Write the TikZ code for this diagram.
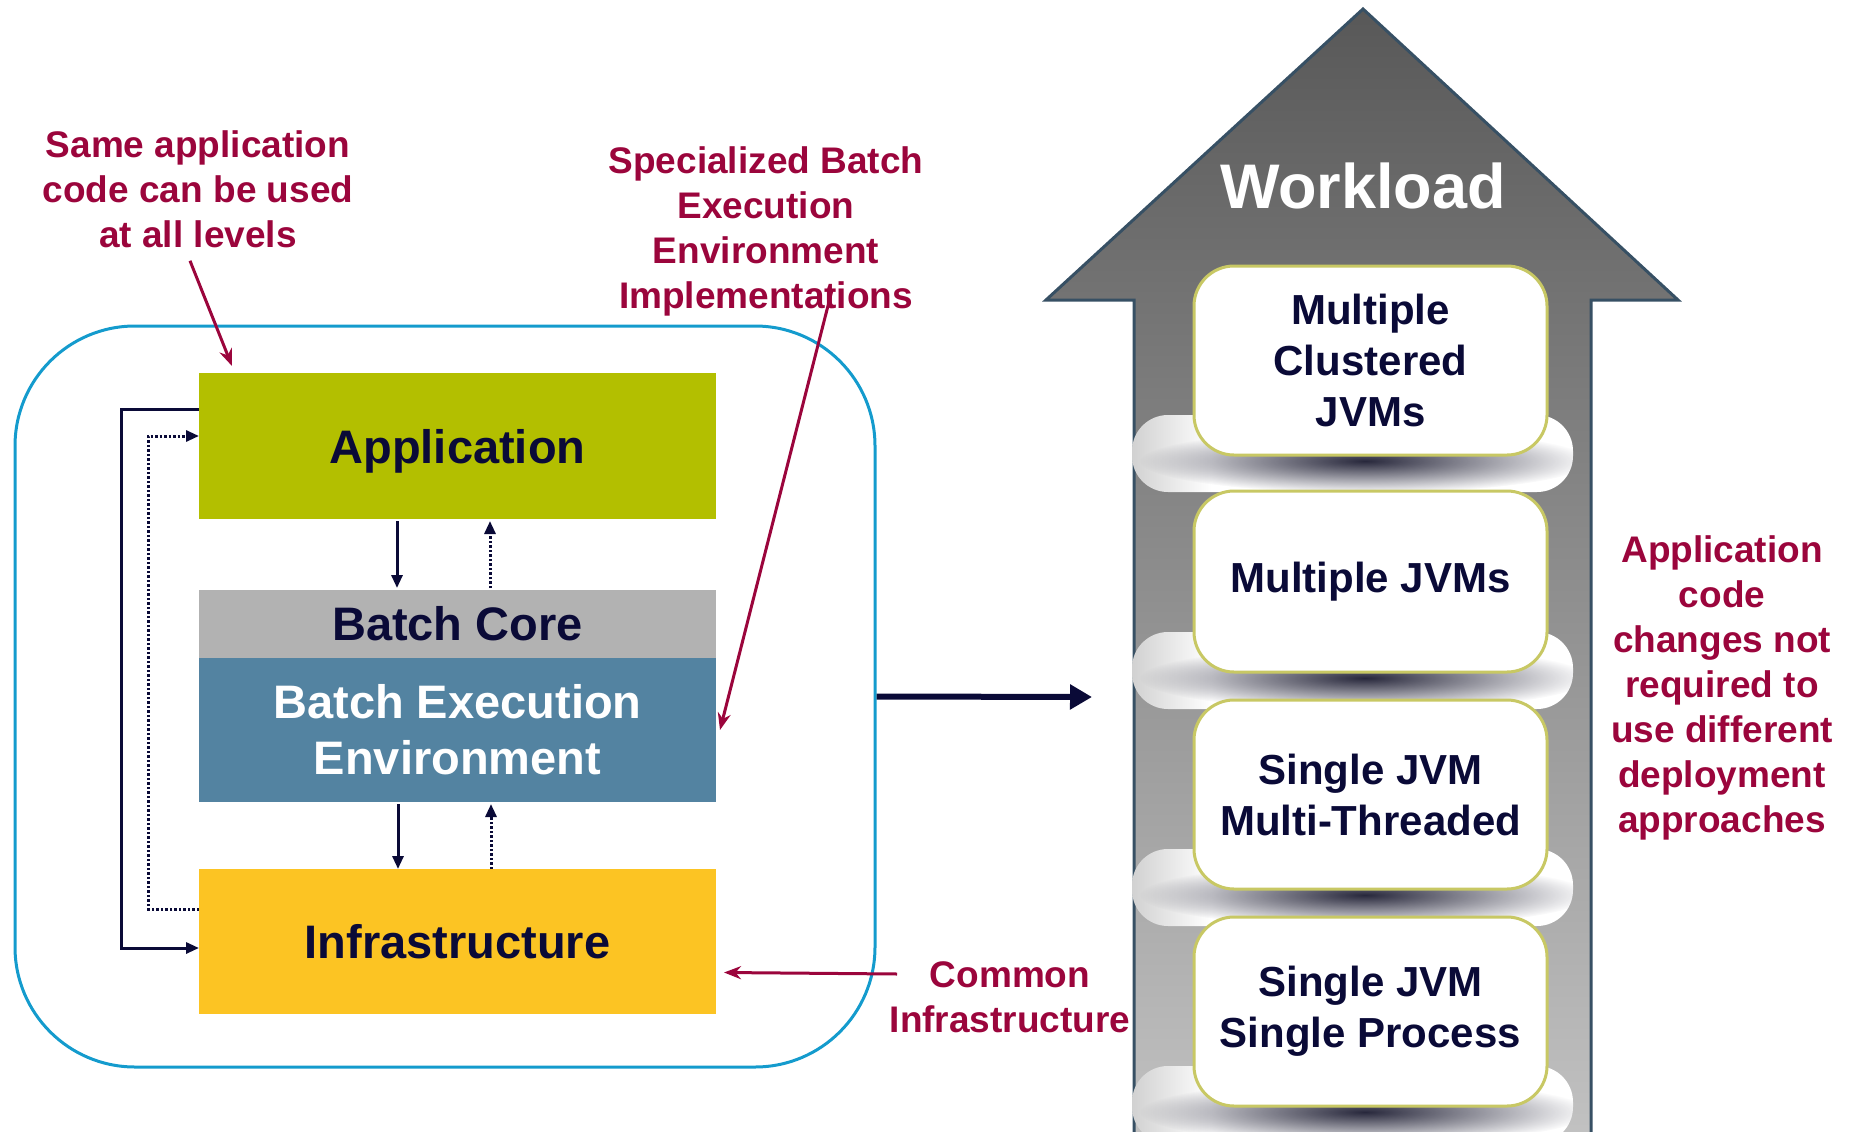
\documentclass[tikz,border=0pt]{standalone}
\usepackage{fontspec}
\setmainfont{Liberation Sans}
\usetikzlibrary{arrows.meta,fadings}

\definecolor{navy}{RGB}{10,10,55}
\definecolor{annot}{RGB}{155,5,60}
\definecolor{appgreen}{RGB}{179,191,0}
\definecolor{coregray}{RGB}{178,178,178}
\definecolor{envblue}{RGB}{83,131,161}
\definecolor{infrayellow}{RGB}{252,196,35}
\definecolor{framecyan}{RGB}{20,155,205}
\definecolor{arrowedge}{RGB}{55,80,100}
\definecolor{boxedge}{RGB}{200,200,100}
\definecolor{wtop}{RGB}{88,88,88}
\definecolor{wbottom}{RGB}{194,194,194}
\definecolor{shadowdark}{RGB}{40,40,60}

\pgfdeclarehorizontalshading{pillshade}{100bp}{color(0bp)=(black!18); color(25bp)=(black!18); color(34bp)=(white); color(100bp)=(white)}
\tikzfading[name=softshadow, inner color=transparent!0, outer color=transparent!100]

\tikzset{
  layer/.style={minimum width=517pt, inner sep=0pt, outer sep=0pt,
    font=\fontsize{47}{56}\selectfont\bfseries, text=navy, align=center},
  conn/.style={draw=navy, line width=3pt, -{Triangle[length=13pt,width=11pt]}},
  connret/.style={conn, dash pattern=on 2.5pt off 2pt},
  note/.style={font=\fontsize{37}{45}\selectfont\bfseries, text=annot, align=center, inner sep=0pt},
  pointer/.style={draw=annot, line width=3pt, -{Stealth[length=17pt,width=13pt]}},
  bigarrow/.style={draw=navy, line width=6pt, -{Triangle[length=22pt,width=24pt]}},
  level/.style={draw=boxedge, line width=3pt, fill=white, rounded corners=40pt,
    minimum width=353pt, inner sep=0pt, outer sep=0pt,
    font=\fontsize{42}{51}\selectfont\bfseries, text=navy, align=center},
}

\begin{document}
\begin{tikzpicture}[x=1pt,y=-1pt]
\useasboundingbox (0,0) rectangle (1858,1132);

% ---- left: layered architecture inside a rounded frame
\node[draw=framecyan, line width=3pt, rounded corners=120pt, minimum width=860pt,
      minimum height=741pt, inner sep=0pt] (frame) at (445,696.5) {};

\node[layer, fill=appgreen, minimum height=146pt, text depth=0pt] (app) at (457.5,446) {Application};
\node[layer, fill=coregray, minimum height=68pt] (core) at (457.5,624) {Batch Core};
\node[layer, fill=envblue, minimum height=144pt, text=white] (env) at (457.5,730) {Batch Execution\\Environment};
\node[layer, fill=infrayellow, minimum height=145pt] (infra) at (457.5,941.5) {Infrastructure};

% calls between layers
\draw[conn] ([xshift=198pt,yshift=-2pt]app.south west) -- ([xshift=198pt,yshift=2pt]core.north west);
\draw[connret] ([xshift=291pt,yshift=2pt]core.north west) -- ([xshift=291pt,yshift=-2pt]app.south west);
\draw[conn] ([xshift=199pt,yshift=-2pt]env.south west) -- ([xshift=199pt]infra.north west);
\draw[connret] ([xshift=292pt]infra.north west) -- ([xshift=292pt,yshift=-2pt]env.south west);

% direct paths between application and infrastructure
\draw[conn] ([yshift=-36pt]app.north west) -- ++(-78,0) |- ([yshift=-79pt]infra.north west);
\draw[connret] ([yshift=-40pt]infra.north west) -- ++(-51,0) |- ([yshift=-63pt]app.north west);

% ---- annotations
\node[note] (same) at (198,189) {Same application\\code can be used\\at all levels};
\node[note] (spec) at (766,231) {Specialized Batch\\Execution\\Environment\\Implementations};
\node[note] (common) at (1010,997) {Common\\Infrastructure};
\node[note] (approach) at (1722,688) {Application\\code\\changes not\\required to\\use different\\deployment\\approaches};

\coordinate (specfoot) at (832,290);
\coordinate (commonfoot) at (897,974);
\draw[pointer] ([xshift=-8pt,yshift=-13pt]same.south) -- ([xshift=33pt,yshift=7pt]app.north west);
\draw[pointer] (specfoot) -- ([xshift=4pt]env.east);
\draw[pointer] (commonfoot) -- ([xshift=8pt,yshift=-31pt]infra.east);

% ---- right: workload arrow
\coordinate (deploy) at (1092,697);
\draw[bigarrow] (frame.east) -- (deploy);

\shade[top color=wtop, bottom color=wbottom]
  (1134,1140) -- (1134,300) -- (1046,300) -- (1363,9) -- (1678,300) -- (1591,300) -- (1591,1140) -- cycle;
\draw[arrowedge, line width=3pt, line join=miter]
  (1134,1140) -- (1134,300) -- (1046,300) -- (1363,9) -- (1678,300) -- (1591,300) -- (1591,1140);
\node[text=white, font=\fontsize{63}{70}\selectfont\bfseries, inner sep=0pt] (workload) at (1363,186) {Workload};

% raised tiles with their soft shadows
\foreach \b in {455,672,889,1106} {
  \begin{scope}
    \clip[rounded corners=36pt] (1132,\b-40) rectangle (1573,\b+37);
    \shade[shading=pillshade] (1132,\b-40) rectangle (1573,\b+37);
    \fill[shadowdark, path fading=softshadow] (1365,\b+6) ellipse (225 and 32);
  \end{scope}
}

\node[level, minimum height=189pt] (clustered) at (1370.5,360.5) {Multiple\\Clustered\\JVMs};
\node[level, minimum height=181pt] (multi) at (1370.5,581.5) {Multiple JVMs};
\node[level, minimum height=189pt] (threaded) at (1370.5,794.5) {Single JVM\\Multi-Threaded};
\node[level, minimum height=189pt] (single) at (1370.5,1011.5) {Single JVM\\Single Process};
\end{tikzpicture}
\end{document}
